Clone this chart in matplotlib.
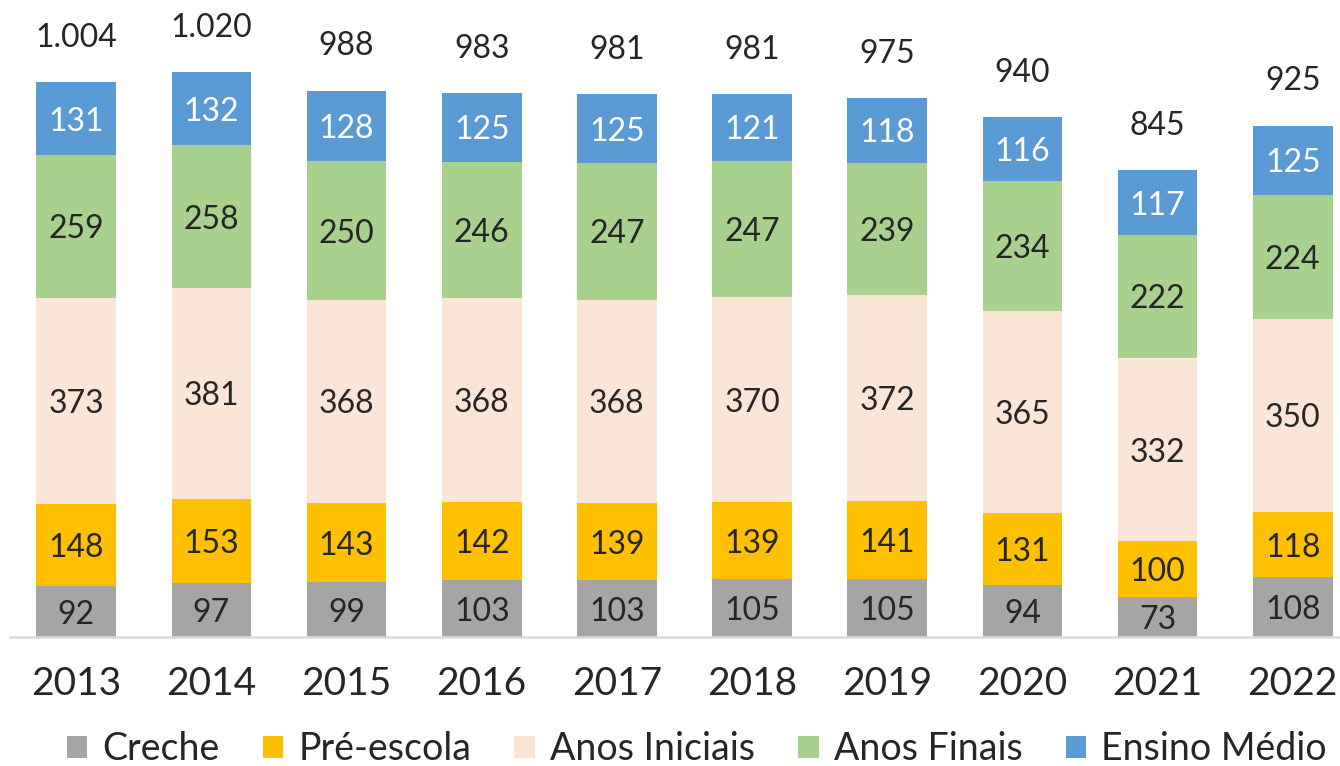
import matplotlib
matplotlib.use("Agg")
import matplotlib.pyplot as plt
from matplotlib.patches import Patch
import numpy as np

plt.rcParams['font.family'] = ['Lato', 'DejaVu Sans']

years = ["2013", "2014", "2015", "2016", "2017", "2018", "2019", "2020", "2021", "2022"]
creche = [92, 97, 99, 103, 103, 105, 105, 94, 73, 108]
pre_escola = [148, 153, 143, 142, 139, 139, 141, 131, 100, 118]
anos_iniciais = [373, 381, 368, 368, 368, 370, 372, 365, 332, 350]
anos_finais = [259, 258, 250, 246, 247, 247, 239, 234, 222, 224]
ensino_medio = [131, 132, 128, 125, 125, 121, 118, 116, 117, 125]
totals = ["1.004", "1.020", "988", "983", "981", "981", "975", "940", "845", "925"]

series = [
    ("Creche", creche, "#A5A5A5", "#262626"),
    ("Pré-escola", pre_escola, "#FFC000", "#262626"),
    ("Anos Iniciais", anos_iniciais, "#FBE5D6", "#262626"),
    ("Anos Finais", anos_finais, "#A9D18E", "#262626"),
    ("Ensino Médio", ensino_medio, "#5B9BD5", "#FFFFFF"),
]

fig = plt.figure(figsize=(13.4, 7.66), dpi=100)
ax = fig.add_axes([0.0075, 0.1684, 0.9925, 0.8316])

x = np.arange(len(years))
bottom = np.zeros(len(years))
handles = []
for name, vals, color, tcolor in series:
    vals = np.array(vals, dtype=float)
    ax.bar(x, vals, width=0.59, bottom=bottom, color=color, edgecolor='none')
    for xi, b, v in zip(x, bottom, vals):
        ax.text(xi, b + v / 2, f"{int(v)}", ha='center', va='center_baseline',
                fontsize=23, color=tcolor)
    bottom += vals
    handles.append(Patch(facecolor=color, edgecolor='none', label=name))

for xi, top, t in zip(x, bottom, totals):
    ax.annotate(t, (xi, top), xytext=(0, 34), textcoords='offset points',
                ha='center', va='center_baseline', fontsize=23, color='#262626')

ax.set_xlim(-0.49, 9.35)
ax.set_ylim(0, 1152)
ax.set_xticks(x)
ax.set_xticklabels(years, fontsize=28, color='#262626')
ax.tick_params(axis='x', length=0, pad=21)
ax.set_yticks([])
for s in ['top', 'right', 'left']:
    ax.spines[s].set_visible(False)
ax.spines['bottom'].set_color('#D9D9D9')
ax.spines['bottom'].set_linewidth(1.8)
ax.patch.set_alpha(0)

fig.legend(handles=handles, loc='center', bbox_to_anchor=(0.52, 0.022),
           ncol=5, frameon=False, fontsize=27, handlelength=0.55, handleheight=0.55,
           handletextpad=0.4, columnspacing=1.15, labelcolor='#262626')

fig.savefig("out.png", dpi=100)
